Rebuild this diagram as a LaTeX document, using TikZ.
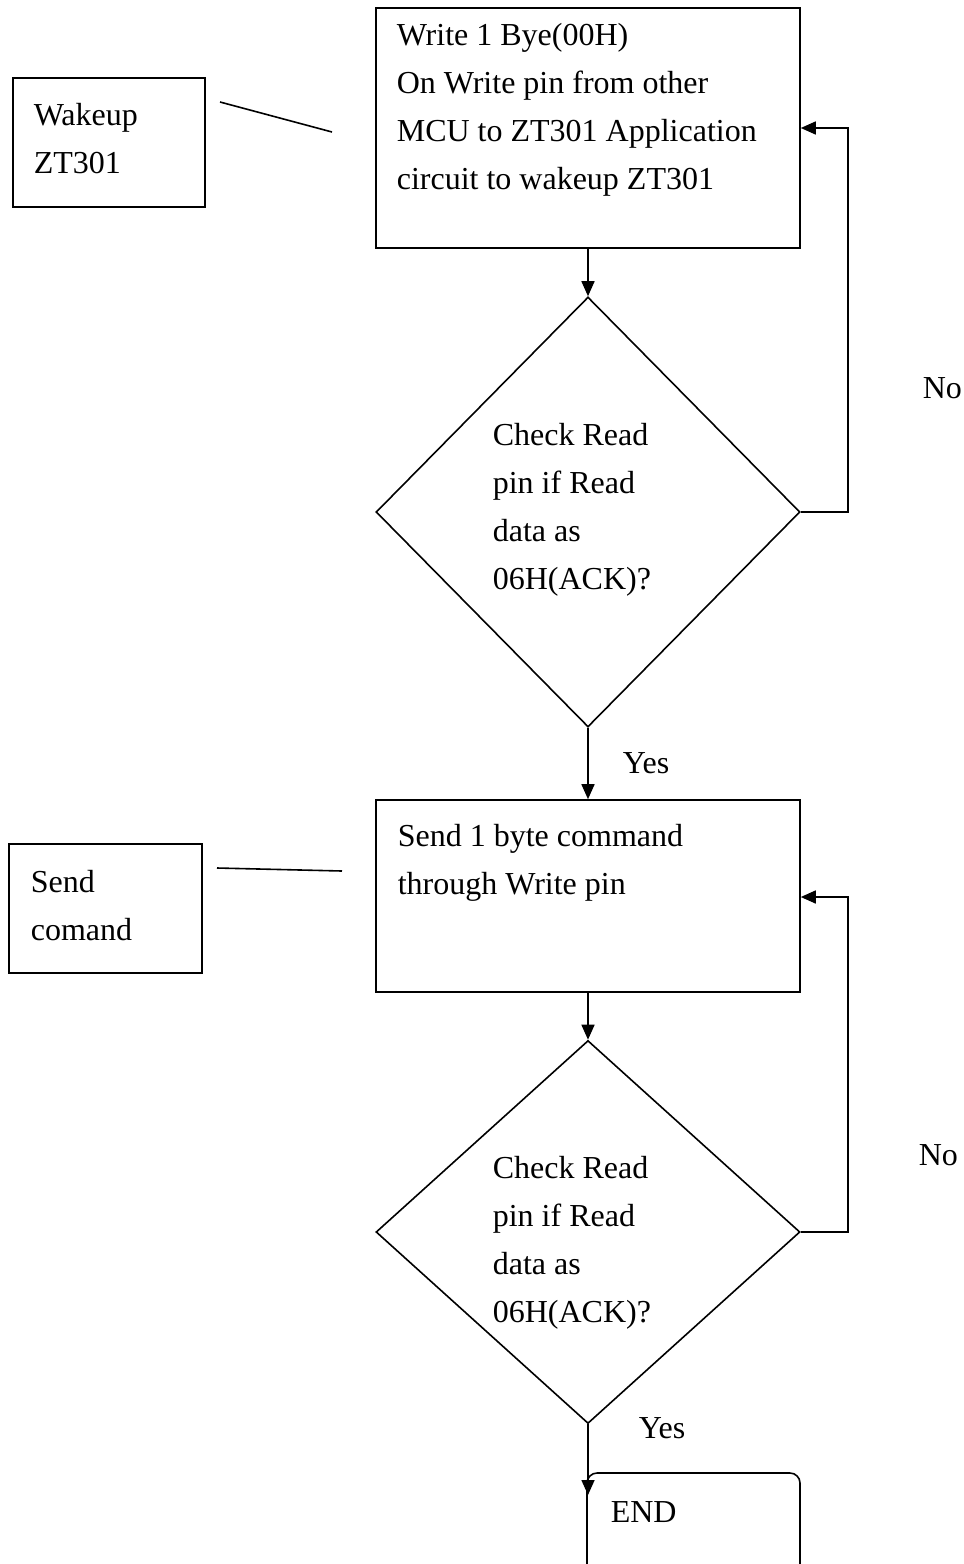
\documentclass[tikz,border=0pt]{standalone}
\usepackage{fontspec}
\setmainfont{Liberation Serif}
\usepackage{tikz}
\usetikzlibrary{arrows.meta,calc,shapes.geometric,positioning}
\tikzset{FC style/.style={x=1pt,y=-1pt,line width=1.6pt,
		>={Triangle[length=15pt,width=13pt]},
		font=\fontsize{32}{48}\selectfont},
	procbox/.style={draw,rectangle,inner sep=0pt,minimum width=424pt},
	decbox/.style={draw,diamond,inner sep=0pt,minimum width=424pt},
	notebox/.style={draw,rectangle,inner sep=0pt,minimum height=129pt},
	txt/.style={align=left,inner sep=0pt,anchor=north west},
	lbl/.style={inner sep=0pt,anchor=base west}}
\newcommand{\st}{\strut}

\begin{document}
\begin{tikzpicture}[FC style]
	\useasboundingbox (0,0) rectangle (964,1564);
	\clip (0,0) rectangle (964,1564);
	
	% main column
	\node[procbox, minimum height=240pt] (wr) at (588,128) {};
	\node[decbox, minimum height=430pt] (chk1) at (588,512) {};
	\node[procbox, minimum height=192pt] (cmd) at (588,896) {};
	\node[decbox, minimum height=383pt] (chk2) at (588,1232) {};
	\node[draw, rounded corners=10pt, minimum width=213pt, minimum height=160pt,
	inner sep=0pt] (fin) at (693.5,1553) {};
	
	% side notes
	\node[notebox, minimum width=192pt] (wake) at (109,142.5) {};
	\node[notebox, minimum width=193pt] (snd) at (105.5,908.5) {};
	
	% texts
	\node[txt] (wr-t) at (396,11.4) {\st Write 1 Bye(00H)\\On Write pin from other\\MCU to ZT301 Application\\circuit to wakeup ZT301};
	\node[txt] (chk1-t) at (492,411.4) {\st Check Read\\pin if Read\\data as\\06H(ACK)?};
	\node[txt] (cmd-t) at (397,812.4) {\st Send 1 byte command\\through Write pin};
	\node[txt] (chk2-t) at (492,1144.4) {\st Check Read\\pin if Read\\data as\\06H(ACK)?};
	\node[txt] (wake-t) at (33,91.4) {\st Wakeup\\ZT301};
	\node[txt] (snd-t) at (30,858.4) {\st Send\\comand};
	\node[lbl] (fin-t) at (610,1522) {END};
	
	\node[lbl] (no1) at (922,398) {No};
	\node[lbl] (yes1) at (622,773) {Yes};
	\node[lbl] (no2) at (918,1165) {No};
	\node[lbl] (yes2) at (638,1438) {Yes};
	
	% loop corners and note leaders
	\coordinate (c1) at (848,512);
	\coordinate (c2) at (848,128);
	\coordinate (c3) at (848,1232);
	\coordinate (c4) at (848,897);
	\coordinate (w1) at (220,102);
	\coordinate (w2) at (332,132);
	\coordinate (s1) at (217,868);
	\coordinate (s2) at (342,871);
	\coordinate (e1) at (588,1495);
	
	\path[->]
	(wr) edge (chk1)
	(chk1) edge (cmd)
	(cmd) edge (chk2)
	(chk2.south) edge (e1)
	;
	\draw[->] (chk1.east) -- (c1) -- (c2) -- (wr.east);
	\draw[->] (chk2.east) -- (c3) -- (c4) -- (cmd.east |- c4);
	\draw (w1) -- (w2);
	\draw (s1) -- (s2);
\end{tikzpicture}
\end{document}
